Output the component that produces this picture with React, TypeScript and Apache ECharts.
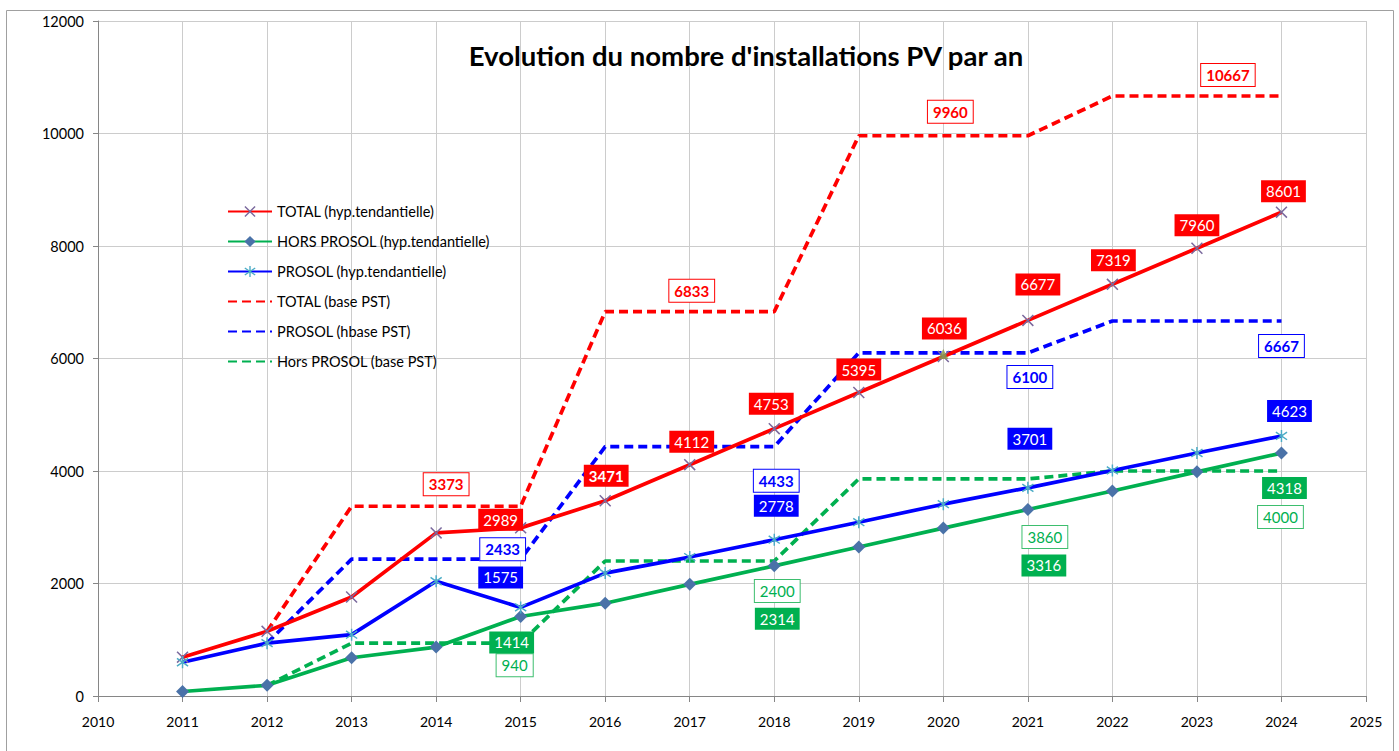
import React, { useEffect, useRef } from "react";
import * as echarts from "echarts";

const years = [2011, 2012, 2013, 2014, 2015, 2016, 2017, 2018, 2019, 2020, 2021, 2022, 2023, 2024];
const totalHyp = [690, 1150, 1760, 2900, 2989, 3471, 4112, 4753, 5395, 6036, 6677, 7319, 7960, 8601];
const horsHyp = [80, 190, 680, 870, 1414, 1650, 1985, 2314, 2650, 2985, 3316, 3645, 3985, 4318];
const prosolHyp = [600, 940, 1090, 2040, 1575, 2185, 2470, 2778, 3090, 3410, 3701, 4010, 4320, 4623];

const pstYears = [2012, 2013, 2014, 2015, 2016, 2017, 2018, 2019, 2020, 2021, 2022, 2023, 2024];
const totalPst = [1150, 3373, 3373, 3373, 6833, 6833, 6833, 9960, 9960, 9960, 10667, 10667, 10667];
const prosolPst = [940, 2433, 2433, 2433, 4433, 4433, 4433, 6100, 6100, 6100, 6667, 6667, 6667];
const horsPst = [190, 940, 940, 940, 2400, 2400, 2400, 3860, 3860, 3860, 4000, 4000, 4000];

const triangleYear = [2020];
const triangleValue = [6080];

const xTicks = { min: 2010, max: 2025, interval: 1 };
const yTicks = { min: 0, max: 12000, interval: 2000 };

const names = {
  totalHyp: "TOTAL (hyp.tendantielle)",
  horsHyp: "HORS PROSOL (hyp.tendantielle)",
  prosolHyp: "PROSOL (hyp.tendantielle)",
  totalPst: "TOTAL (base PST)",
  prosolPst: "PROSOL (hbase PST)",
  horsPst: "Hors PROSOL (base PST)",
};

const RED = "#FF0000";
const GREEN = "#00B050";
const BLUE = "#0000FF";
const FONT = "Lato, 'Noto Sans', sans-serif";

// label placement (year -> [dx, dy, bold])
const labelsTotalHyp: Record<number, [number, number, boolean]> = {
  2015: [-20, -8, false], 2016: [1, -25, true], 2017: [2, -23, false], 2018: [-3, -25, false],
  2019: [0, -23, false], 2020: [1, -28, false], 2021: [10, -36, false], 2022: [1, -24, false],
  2023: [0, -23, false], 2024: [2, -21, false],
};
const labelsTotalPst: Record<number, [number, number, boolean]> = {
  2014: [10, -22, true], 2017: [2, -21, true], 2020: [7, -24, true], 2023: [31, -21, true],
};
const labelsProsolPst: Record<number, [number, number, boolean]> = {
  2015: [-18, -10, true], 2018: [2, 34, true], 2021: [2, 24, true], 2024: [0, 25, true],
};
const labelsProsolHyp: Record<number, [number, number, boolean]> = {
  2015: [-20, -30, false], 2018: [2, -34, false], 2021: [2, -49, false], 2024: [8, -25, false],
};
const labelsHorsHyp: Record<number, [number, number, boolean]> = {
  2015: [-9, 26, false], 2018: [3, 53, false], 2021: [16, 56, false], 2024: [3, 35, false],
};
const labelsHorsPst: Record<number, [number, number, boolean]> = {
  2015: [-6, 22, false], 2018: [3, 30, false], 2021: [17, 58, false], 2024: [-1, 46, false],
};

function barPoly(angleDeg: number, len: number, thick: number): string {
  const a = (angleDeg * Math.PI) / 180;
  const ux = Math.cos(a), uy = Math.sin(a);
  const vx = -uy, vy = ux;
  const c = 5;
  const h = len / 2, t = thick / 2;
  const pts = [
    [c + ux * h + vx * t, c + uy * h + vy * t],
    [c - ux * h + vx * t, c - uy * h + vy * t],
    [c - ux * h - vx * t, c - uy * h - vy * t],
    [c + ux * h - vx * t, c + uy * h - vy * t],
  ];
  return "M" + pts.map((p) => p[0].toFixed(2) + "," + p[1].toFixed(2)).join("L") + "Z";
}
const xSymbol = "path://" + barPoly(45, 13, 1.3) + barPoly(135, 13, 1.3);
const starSymbol = "path://" + barPoly(90, 10, 1.2) + barPoly(35, 11, 1.2) + barPoly(145, 11, 1.2);

function makeData(xs: number[], vs: number[], cfg: Record<number, [number, number, boolean]>, kind: "filled" | "outline", color: string, borderColor?: string) {
  return xs.map((x, i) => {
    const c = cfg[x];
    if (!c) return { value: [x, vs[i]] };
    const base: any = {
      show: true,
      position: "inside",
      offset: [c[0], c[1]],
      fontSize: 15,
      fontFamily: FONT,
      fontWeight: c[2] ? "bold" : "normal",
      padding: [4, 5, 3, 5],
      formatter: String(vs[i]),
    };
    if (kind === "filled") {
      base.backgroundColor = color;
      base.color = "#FFFFFF";
    } else {
      base.backgroundColor = "#FFFFFF";
      base.borderColor = borderColor || color;
      base.borderWidth = 1;
      base.color = color;
    }
    return { value: [x, vs[i]], label: base };
  });
}

export default function App() {
  const ref = useRef<HTMLDivElement>(null);
  useEffect(() => {
    document.body.style.margin = "0";
    if (!ref.current) return;
    const chart = echarts.init(ref.current, undefined, { renderer: "svg" });
    const solidW = 3.7;
    const dash = [9, 5];
    chart.setOption({
      animation: false,
      backgroundColor: "#FFFFFF",
      grid: { left: 98, right: 33, top: 21, bottom: 55, containLabel: false },
      graphic: [
        {
          type: "rect",
          shape: { x: 6.5, y: 10.5, width: 1387, height: 760 },
          style: { fill: "none", stroke: "#A0A0A0", lineWidth: 1 },
          silent: true,
          z: -1,
        },
        {
          type: "text",
          x: 746,
          y: 55,
          style: {
            text: "Evolution du nombre d'installations PV par an",
            textAlign: "center",
            textVerticalAlign: "middle",
            fontSize: 27.5,
            fontWeight: "bold",
            fontFamily: FONT,
            fill: "#000000",
          },
          z: 10,
        },
      ],
      legend: {
        orient: "vertical",
        left: 227,
        top: 204,
        padding: 0,
        itemWidth: 44,
        itemHeight: 14,
        itemGap: 15,
        textStyle: { fontSize: 14.5, fontFamily: FONT, color: "#000000" },
        data: [names.totalHyp, names.horsHyp, names.prosolHyp, names.totalPst, names.prosolPst, names.horsPst],
      },
      xAxis: {
        type: "value",
        min: xTicks.min,
        max: xTicks.max,
        interval: xTicks.interval,
        axisLine: { show: true, lineStyle: { color: "#868686", width: 1 } },
        axisTick: { show: true, length: 6, lineStyle: { color: "#868686" } },
        axisLabel: { formatter: (v: number) => String(v), fontSize: 14, fontFamily: FONT, color: "#000000", margin: 18 },
        splitLine: { show: true, lineStyle: { color: "#CCCCCC", width: 1 } },
      },
      yAxis: {
        type: "value",
        min: yTicks.min,
        max: yTicks.max,
        interval: yTicks.interval,
        axisLine: { show: true, lineStyle: { color: "#868686", width: 1 } },
        axisTick: { show: true, length: 5, lineStyle: { color: "#868686" } },
        axisLabel: { formatter: (v: number) => String(v), fontSize: 14.5, fontFamily: FONT, color: "#000000", margin: 14 },
        splitLine: { show: true, lineStyle: { color: "#CCCCCC", width: 1 } },
      },
      series: [
        {
          name: names.totalPst,
          type: "line",
          data: makeData(pstYears, totalPst, labelsTotalPst, "outline", RED),
          symbol: "circle",
          symbolSize: 2,
          showAllSymbol: true,
          itemStyle: { color: "rgba(0,0,0,0)" },
          lineStyle: { color: RED, width: solidW, type: dash },
          z: 2,
        },
        {
          name: names.prosolPst,
          type: "line",
          data: makeData(pstYears, prosolPst, labelsProsolPst, "outline", BLUE),
          symbol: "circle",
          symbolSize: 2,
          showAllSymbol: true,
          itemStyle: { color: "rgba(0,0,0,0)" },
          lineStyle: { color: BLUE, width: solidW, type: dash },
          z: 2,
        },
        {
          name: names.horsPst,
          type: "line",
          data: makeData(pstYears, horsPst, labelsHorsPst, "outline", GREEN, "#3DBE6E"),
          symbol: "circle",
          symbolSize: 2,
          showAllSymbol: true,
          itemStyle: { color: "rgba(0,0,0,0)" },
          lineStyle: { color: GREEN, width: solidW, type: dash },
          z: 2,
        },
        {
          name: names.totalHyp,
          type: "line",
          data: makeData(years, totalHyp, labelsTotalHyp, "filled", RED),
          symbol: xSymbol,
          symbolSize: 12,
          showAllSymbol: true,
          itemStyle: { color: "#7B6A9E" },
          lineStyle: { color: RED, width: solidW },
          z: 3,
        },
        {
          name: names.horsHyp,
          type: "line",
          data: makeData(years, horsHyp, labelsHorsHyp, "filled", GREEN),
          symbol: "diamond",
          symbolSize: 13,
          showAllSymbol: true,
          itemStyle: { color: "#4A72A8" },
          lineStyle: { color: GREEN, width: solidW },
          z: 3,
        },
        {
          name: names.prosolHyp,
          type: "line",
          data: makeData(years, prosolHyp, labelsProsolHyp, "filled", BLUE),
          symbol: starSymbol,
          symbolSize: 12,
          showAllSymbol: true,
          itemStyle: { color: "#4BACC6" },
          lineStyle: { color: BLUE, width: solidW },
          z: 3,
        },
        {
          name: "marker",
          type: "scatter",
          data: triangleYear.map((x, i) => [x, triangleValue[i]]),
          symbol: "triangle",
          symbolSize: 10,
          itemStyle: { color: "#8A9A48" },
          z: 4,
        },
      ],
    });
    return () => chart.dispose();
  }, []);
  return <div ref={ref} style={{ width: 1399, height: 751 }} />;
}
